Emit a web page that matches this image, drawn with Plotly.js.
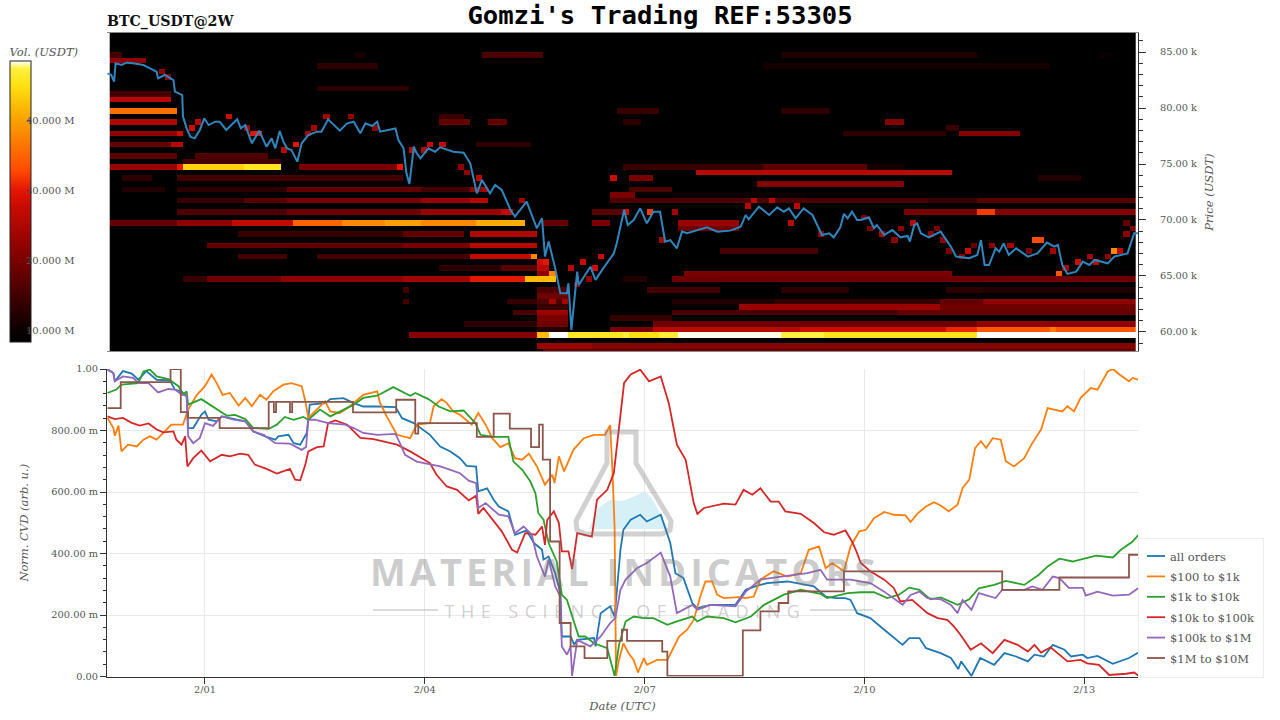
<!DOCTYPE html>
<html><head><meta charset="utf-8">
<script src="https://cdn.plot.ly/plotly-3.0.1.min.js"></script>
<style>html,body{margin:0;padding:0;background:#fff}#chart{width:1280px;height:720px}</style>
</head><body><div id="chart"></div>
<script>
// ---- time base: values are days relative to 2/01 00:00 UTC
const tickDays = [0, 3, 6, 9, 12];
const tickDayLabels = ["2/01", "2/04", "2/07", "2/10", "2/13"];
const cvdTickVals = [0, 0.2, 0.4, 0.6, 0.8, 1];
const cvdTickText = ["0.00", "200.00 m", "400.00 m", "600.00 m", "800.00 m", "1.00"];
const priceTickVals = [60, 65, 70, 75, 80, 85];
const priceTickText = ["60.00 k", "65.00 k", "70.00 k", "75.00 k", "80.00 k", "85.00 k"];
const volTickVals = [10, 20, 30, 40];
const volTickText = ["10.000 M", "20.000 M", "30.000 M", "40.000 M"];

// ---- price (k USDT)
const priceDay = [-1.33,-1.28,-1.24,-1.22,-1.14,-1.07,-.98,-.84,-.75,-.66,-.64,-.55,-.43,-.41,-.31,-.30,-.25,-.20,-.14,-.07,-.01,.05,.14,.20,.29,.39,.44,.49,.55,.64,.68,.74,.84,.91,.96,1.02,1.07,1.12,1.18,1.26,1.32,1.41,1.53,1.59,1.68,1.84,1.94,2.03,2.12,2.19,2.28,2.35,2.39,2.60,2.64,2.71,2.75,2.79,2.85,2.89,2.94,3.05,3.14,3.21,3.39,3.53,3.62,3.71,3.78,3.83,3.89,3.96,4.05,4.17,4.23,4.39,4.53,4.60,4.64,4.69,4.78,4.85,4.94,4.96,5.0,5.08,5.10,5.26,5.33,5.42,5.58,5.62,5.72,5.77,5.85,5.94,6.03,6.12,6.21,6.28,6.35,6.44,6.51,6.58,6.85,6.99,7.17,7.31,7.38,7.42,7.56,7.70,7.81,7.90,7.97,8.06,8.17,8.29,8.42,8.52,8.58,8.67,8.72,8.77,8.83,8.90,8.95,9.06,9.13,9.17,9.27,9.38,9.49,9.59,9.62,9.68,9.72,9.77,9.88,10.04,10.18,10.25,10.43,10.54,10.59,10.64,10.70,10.79,10.84,10.90,10.97,11.07,11.23,11.36,11.49,11.59,11.64,11.70,11.77,11.89,11.98,12.07,12.14,12.32,12.41,12.59,12.68,12.75];
const priceVal = [83.1,82.96,82.35,83.99,83.84,84.05,83.99,83.84,83.54,83.24,82.65,82.95,82.5,81.46,81.16,79.23,78.18,77.44,77.29,78.04,79.08,78.48,78.78,78.78,78.04,78.63,78.99,78.18,78.48,76.85,77.29,77.98,76.55,77.29,76.4,77.95,77.0,76.4,76.25,75.21,76.85,77.59,77.89,77.89,78.99,77.98,78.63,78.78,77.74,78.63,78.39,78.78,77.89,78.18,77.14,76.4,74.17,73.21,76.55,75.95,75.5,76.4,76.1,76.49,76.1,76.01,75.06,72.38,73.57,72.98,72.38,73.13,72.68,70.89,70.3,71.64,69.26,70.15,66.73,68.07,65.68,63.45,63.45,64.35,60.18,65.39,64.2,65.83,64.64,65.54,67.02,67.92,70.89,69.55,70.0,71.04,69.7,70.74,70.74,68.07,68.21,67.47,68.96,68.81,69.35,68.96,69.05,69.4,70.45,70.06,71.19,70.45,71.13,70.74,71.04,70.15,71.04,70.45,68.66,68.81,68.45,69.35,70.54,70.15,70.74,70.0,70.0,70.24,69.26,69.55,68.66,69.1,68.45,68.57,68.07,69.55,69.7,68.81,68.45,68.96,67.62,66.73,66.58,66.88,68.21,65.98,65.98,67.47,67.17,67.92,66.88,67.47,66.73,67.02,67.98,67.62,67.77,65.98,65.18,65.39,66.28,65.98,66.43,66.13,66.73,67.02,68.81,68.81];

// ---- normalised CVD series
const orangeDay = [-1.33,-1.25,-1.23,-1.18,-1.14,-1.05,-.93,-.84,-.75,-.66,-.57,-.46,-.30,-.23,-.11,0,.09,.16,.24,.34,.46,.55,.64,.75,.84,.93,1.07,1.18,1.32,1.37,1.41,1.50,1.64,1.71,1.84,1.98,2.16,2.35,2.39,2.48,2.62,2.80,2.89,3.07,3.12,3.23,3.30,3.39,3.48,3.64,3.73,3.83,3.92,4.03,4.14,4.23,4.33,4.42,4.53,4.64,4.74,4.77,4.83,4.90,5.03,5.17,5.31,5.46,5.53,5.56,5.59,5.61,5.65,5.71,5.78,5.85,5.91,5.99,6.03,6.17,6.31,6.38,6.47,6.58,6.67,6.76,6.83,6.92,6.99,7.08,7.29,7.38,7.49,7.58,7.76,7.95,8.13,8.24,8.38,8.47,8.56,8.72,8.81,8.93,9.02,9.13,9.27,9.40,9.56,9.63,9.72,9.84,9.95,10.04,10.15,10.27,10.34,10.43,10.51,10.59,10.66,10.75,10.86,10.93,11.04,11.18,11.29,11.41,11.50,11.59,11.70,11.77,11.86,11.95,12.09,12.18,12.32,12.39,12.48,12.61,12.66,12.74];
const orangeVal = [.841,.808,.783,.816,.732,.754,.748,.770,.781,.770,.792,.819,.819,.868,.916,.944,.982,.954,.916,.922,.881,.906,.879,.916,.900,.927,.949,.954,.944,.895,.841,.862,.895,.862,.857,.879,.916,.927,.889,.846,.786,.775,.819,.824,.879,.902,.889,.862,.851,.819,.857,.819,.775,.746,.759,.710,.705,.725,.683,.624,.656,.629,.716,.667,.738,.775,.786,.786,.817,.672,.488,.002,.054,.108,.076,.054,.013,.060,.038,.054,.054,.087,.130,.152,.184,.260,.309,.309,.266,.255,.258,.255,.260,.315,.342,.325,.336,.412,.423,.352,.369,.342,.423,.472,.477,.515,.535,.526,.524,.502,.529,.553,.567,.556,.537,.559,.613,.640,.743,.765,.743,.775,.770,.700,.683,.710,.759,.803,.873,.868,.862,.879,.862,.906,.938,.933,.992,1.0,.982,.960,.971,.965];

const redDay = [-1.33,-1.23,-1.12,-1.0,-.89,-.77,-.66,-.57,-.43,-.39,-.32,-.27,-.24,-.16,-.05,.07,.23,.34,.48,.59,.68,.84,.98,1.16,1.23,1.30,1.37,1.41,1.53,1.62,1.68,1.78,1.94,2.12,2.30,2.62,2.80,3.07,3.16,3.30,3.44,3.60,3.70,3.73,3.80,3.92,4.05,4.19,4.26,4.37,4.51,4.60,4.64,4.67,4.76,4.83,4.87,4.96,5.01,5.08,5.28,5.35,5.49,5.58,5.65,5.72,5.81,5.94,6.06,6.22,6.33,6.44,6.56,6.67,6.72,6.81,7.08,7.24,7.35,7.47,7.58,7.72,7.83,7.92,8.13,8.31,8.45,8.58,8.74,8.83,8.88,8.95,9.08,9.27,9.40,9.49,9.65,9.86,10.0,10.13,10.22,10.31,10.45,10.59,10.75,10.91,11.09,11.23,11.32,11.41,11.54,11.77,11.95,12.04,12.2,12.34,12.57,12.68,12.74];
const redVal = [.846,.837,.841,.825,.816,.823,.803,.794,.797,.770,.754,.781,.683,.710,.735,.700,.721,.716,.725,.721,.689,.675,.660,.675,.640,.638,.689,.732,.746,.748,.824,.833,.819,.776,.772,.754,.732,.694,.656,.618,.607,.573,.588,.529,.548,.510,.472,.412,.403,.466,.461,.488,.428,.509,.537,.499,.407,.407,.349,.466,.455,.575,.607,.662,.813,.955,.982,.998,.960,.976,.889,.754,.705,.564,.529,.548,.562,.559,.607,.591,.612,.569,.569,.537,.529,.499,.469,.461,.475,.439,.413,.369,.342,.315,.288,.244,.249,.206,.190,.184,.163,.136,.087,.108,.076,.119,.103,.081,.103,.078,.095,.049,.054,.043,.038,.005,.009,.013,.002];

const greenDay = [-1.33,-1.21,-1.14,-.98,-.91,-.84,-.75,-.66,-.50,-.36,-.30,-.25,-.23,-.05,.16,.30,.41,.55,.66,.87,.98,1.09,1.21,1.34,1.41,1.57,1.71,1.84,2.03,2.16,2.35,2.57,2.69,2.80,2.87,3.05,3.19,3.35,3.53,3.69,3.76,3.94,4.14,4.21,4.33,4.44,4.51,4.55,4.62,4.69,4.80,4.87,4.94,5.01,5.10,5.19,5.31,5.49,5.53,5.59,5.65,5.74,5.85,5.99,6.12,6.31,6.44,6.65,6.72,6.85,7.08,7.24,7.45,7.63,7.90,8.13,8.40,8.49,8.77,8.95,9.13,9.31,9.47,9.61,9.75,9.90,10.04,10.27,10.43,10.56,10.77,10.93,11.18,11.38,11.50,11.66,11.84,11.98,12.16,12.39,12.50,12.66,12.74];
const greenVal = [.922,.933,.949,.952,.954,.992,.998,.976,.967,.944,.917,.927,.884,.902,.868,.848,.851,.837,.808,.805,.819,.844,.835,.844,.835,.868,.846,.862,.884,.906,.913,.941,.927,.913,.922,.902,.878,.862,.865,.824,.786,.779,.779,.699,.672,.634,.596,.531,.510,.434,.374,.266,.249,.195,.130,.130,.108,.092,.054,.002,.103,.179,.195,.190,.190,.168,.179,.195,.179,.195,.190,.176,.195,.233,.266,.282,.269,.255,.271,.274,.274,.255,.266,.289,.282,.251,.257,.233,.251,.287,.298,.311,.298,.331,.358,.383,.374,.383,.393,.387,.412,.439,.461];

const blueDay = [-1.33,-1.25,-1.23,-1.12,-1.0,-.91,-.80,-.66,-.48,-.41,-.32,-.25,-.23,-.16,-.05,0,.05,.16,.23,.39,.55,.66,.84,.96,1.0,1.14,1.21,1.30,1.39,1.43,1.64,1.71,1.89,2.03,2.16,2.35,2.60,2.69,2.85,3.07,3.21,3.35,3.48,3.57,3.70,3.73,3.85,3.94,4.01,4.14,4.23,4.39,4.49,4.60,4.62,4.69,4.78,4.85,4.87,4.99,5.04,5.08,5.31,5.33,5.40,5.53,5.59,5.67,5.71,5.81,5.94,6.03,6.22,6.35,6.42,6.53,6.65,6.72,6.90,7.24,7.38,7.51,7.67,7.95,8.31,8.47,8.61,8.74,8.81,8.90,9.08,9.27,9.52,9.61,9.75,9.84,10.04,10.18,10.28,10.32,10.46,10.58,10.77,10.91,11.07,11.23,11.32,11.45,11.57,11.73,11.82,11.98,12.04,12.18,12.39,12.61,12.74];
const blueVal = [.998,.987,.960,.993,.985,.965,.993,.965,.963,.933,.927,.911,.808,.808,.851,.862,.835,.830,.846,.838,.830,.797,.779,.770,.781,.786,.759,.754,.792,.884,.889,.902,.905,.889,.878,.878,.876,.840,.824,.786,.748,.732,.710,.685,.683,.602,.612,.575,.553,.537,.461,.475,.434,.412,.380,.390,.336,.271,.130,.130,.103,.119,.125,.098,.206,.228,.195,.412,.477,.510,.526,.504,.526,.434,.336,.320,.239,.222,.233,.233,.282,.293,.304,.309,.293,.260,.255,.255,.249,.206,.190,.152,.103,.125,.125,.092,.076,.060,.024,.049,.002,.060,.038,.076,.065,.049,.071,.065,.103,.087,.065,.071,.060,.067,.041,.060,.078];

const purpleDay = [-1.33,-1.25,-1.23,-1.12,-.98,-.91,-.77,-.64,-.50,-.41,-.32,-.25,-.23,-.16,-.07,0,.11,.23,.39,.55,.66,.80,.96,1.16,1.32,1.38,1.41,1.50,1.68,1.91,2.03,2.16,2.35,2.60,2.66,2.73,2.89,3.07,3.21,3.35,3.48,3.60,3.70,3.73,3.83,4.01,4.14,4.23,4.35,4.46,4.53,4.64,4.69,4.78,4.85,4.87,4.94,4.99,5.01,5.08,5.26,5.40,5.53,5.60,5.67,5.74,5.90,6.03,6.22,6.35,6.44,6.65,6.72,6.90,7.24,7.38,7.58,7.86,8.22,8.40,8.49,8.81,9.08,9.27,9.40,9.52,9.63,9.75,9.86,10.04,10.18,10.27,10.34,10.46,10.56,10.79,10.88,11.18,11.29,11.43,11.57,11.66,11.79,11.98,12.02,12.18,12.39,12.61,12.74];
const purpleVal = [1.0,.987,.960,.976,.971,.954,.954,.924,.935,.933,.917,.913,.781,.759,.776,.824,.815,.846,.835,.830,.797,.786,.759,.757,.737,.746,.835,.835,.824,.819,.808,.792,.786,.789,.759,.721,.699,.689,.683,.672,.661,.637,.629,.548,.564,.526,.521,.466,.488,.461,.390,.325,.380,.293,.260,.098,.071,.098,.002,.119,.098,.130,.174,.190,.282,.315,.353,.369,.403,.325,.206,.233,.217,.233,.228,.276,.315,.325,.336,.347,.315,.315,.304,.276,.255,.233,.265,.276,.255,.251,.233,.206,.249,.217,.271,.255,.282,.282,.293,.282,.325,.320,.288,.288,.263,.276,.263,.266,.288];

const brownDay = [-1.33,-1.15,-.47,-.33,-.23,.20,.87,.94,.97,1.16,1.19,2.02,2.61,2.87,2.91,3.71,3.94,4.16,4.45,4.56,4.61,4.71,4.84,4.99,5.18,5.49,5.69,5.76,6.24,6.31,7.34,7.58,7.83,7.96,8.72,10.88,11.66,12.61,12.74];
const brownVal = [.873,.957,1.0,.860,.841,.808,.893,.860,.893,.860,.893,.859,.900,.790,.824,.779,.855,.806,.746,.819,.705,.439,.174,.098,.060,.116,.152,.116,.081,.002,.150,.212,.239,.277,.342,.282,.322,.396,.396];

const seriesNames = ["all orders", "$100 to $1k", "$1k to $10k", "$10k to $100k", "$100k to $1M", "$1M to $10M"];
const seriesColors = ["#1f77b4", "#ff7f0e", "#2ca02c", "#d62728", "#9467bd", "#8c564b"];

// ---- order-book heat bands: upper price edge (k) and [fromDay, toDay, volume M] runs
const bandPrice = [85,84.5,84,82,81.5,81,80,79.5,79,78.5,78,77,76,75.5,75,74.5,74,73.5,73,72.5,72,71,70,69.5,69,68,67.5,67,66.5,66,65.5,65,64,63.5,63,62.5,62,61.5,61,60.5,60,59,58.5];
const bandRuns = [
 [[-1.30,-1.16,15],[2.05,2.21,11],[3.79,4.60,16],[7.9,10.5,12],[12.2,12.4,10]],
 [[-1.30,-.79,22]],
 [[1.54,2.36,13],[7.6,11.53,11]],
 [[1.57,2.76,13]],
 [[-1.30,-.48,15]],
 [[-1.30,-.48,26]],
 [[-1.30,-.38,36],[5.63,6.21,14],[7.89,8.53,13]],
 [[3.21,3.55,14]],
 [[-1.30,-.38,25],[3.21,3.62,18],[3.86,4.09,18],[5.7,5.93,13],[9.28,9.52,21]],
 [[10.1,10.27,14]],
 [[-1.30,-.38,22],[-.38,-.27,28],[8.66,10.1,13],[10.27,11.12,21]],
 [[-1.30,-.48,18],[-.45,-.30,26],[3.71,4.43,13]],
 [[-1.30,-.41,17],[-.14,.89,16]],
 [[-.30,1.02,15]],
 [[-1.30,-.38,23],[-.38,-.30,30],[-.30,.55,44],[.55,1.04,46],[1.30,2.62,20],[2.62,2.69,30],[5.7,7.6,14],[7.6,9.0,17],[9.0,9.5,11]],
 [[6.71,10.19,26]],
 [[-1.13,-.71,13],[-.38,2.66,15],[5.76,6.1,20],[11.39,11.94,12]],
 [[7.53,9.51,21]],
 [[-1.13,-.55,12],[-.41,.61,13],[.61,1.09,13],[1.13,2.93,18],[2.93,3.62,15],[3.62,3.76,22],[5.76,6.34,16]],
 [[5.55,5.85,20],[6.34,8.2,10]],
 [[-.38,.55,14],[.55,1.13,17],[1.13,2.93,20],[2.93,3.62,23],[3.62,3.86,26],[5.53,9.89,16],[9.89,10.53,14],[10.53,12.69,17]],
 [[-.38,1.09,16],[1.09,2.93,19],[2.93,4.02,23],[4.02,4.16,27],[5.25,5.66,17],[9.55,10.55,20],[10.55,10.78,32],[10.78,12.69,21]],
 [[-1.30,-.38,18],[-.38,.34,22],[.34,1.16,27],[1.16,1.88,35],[1.88,2.43,38],[2.43,2.93,40],[2.93,3.66,38],[3.66,4.37,41],[4.61,4.95,18],[5.25,5.53,20],[6.44,7.28,23]],
 [[6.44,7.3,19]],
 [[.48,2.66,14],[2.66,3.55,18],[3.62,4.53,25]],
 [[.07,2.66,18],[2.66,3.62,20],[3.62,4.53,26]],
 [[7.01,8.35,15]],
 [[.48,1.09,15],[1.57,3.62,15],[3.62,4.43,27],[4.43,4.53,38]],
 [[4.5,4.7,28]],
 [[3.21,4.02,13],[4.02,4.5,17],[4.5,4.7,26]],
 [[4.5,4.77,22],[6.53,10.16,20],[10.16,12.69,10]],
 [[-.30,.03,14],[.03,1.02,19],[1.02,2.66,22],[2.66,3.62,24],[3.62,4.37,30],[4.37,4.77,42],[5.66,6.03,12],[6.34,12.69,19]],
 [[2.7,2.76,15],[4.57,4.95,16],[6.04,7.01,15],[7.84,8.76,13],[10.11,10.61,13],[10.61,12.69,12]],
 [[4.57,4.95,19]],
 [[2.7,2.76,15],[4.09,4.53,14],[4.57,4.95,16],[6.37,7.80,12],[7.80,10.03,14],[10.03,10.61,18],[10.61,12.69,22]],
 [[4.57,4.95,14],[7.27,10.01,23],[10.01,12.69,19]],
 [[4.16,4.53,16],[4.57,4.95,23],[6.37,9.48,16],[9.48,12.69,18]],
 [[4.57,4.95,20],[5.54,6.34,14]],
 [[3.55,4.53,13],[4.57,4.95,19],[6.13,10.50,19],[10.50,12.69,22]],
 [[4.57,4.95,12],[5.54,6.13,20],[6.13,8.12,26],[8.12,10.10,28],[10.10,10.50,31],[10.50,11.51,34],[11.51,11.60,37],[11.60,12.69,34]],
 [[2.78,4.57,21],[4.57,4.68,42],[4.68,4.97,49],[4.97,5.69,46],[5.69,5.80,47.5],[5.80,6.18,45],[6.18,6.44,47],[6.44,7.84,48.5],[7.84,8.42,47.5],[8.42,10.50,45.5],[10.50,12.69,49]],
 [[4.57,5.28,23],[5.28,12.69,21]],
 [[4.6,12.69,18]]
];
// isolated resting-order blocks next to the price line
const dotDay = [-.6,-.55,-.18,-.08,.31,.60,.67,.78,1.06,1.23,1.39,1.46,1.65,1.98,2.36,2.8,2.97,3.07,3.23,3.48,3.57,3.74,3.82,4.32,4.65,4.73,4.73,4.91,5.01,5.09,5.14,5.23,5.32,5.40,5.57,5.73,6.07,6.23,6.38,7.41,7.48,7.74,7.98,8.08,8.42,8.98,9.07,9.24,9.41,9.52,9.65,9.92,9.99,10.07,10.16,10.31,10.40,10.5,10.75,11.02,11.23,11.36,11.43,11.57,11.64,11.76,11.91,12.07,12.14,12.31,12.40,12.48,12.58,12.58,12.65];
const dotPrice = [83.5,83,78.5,79,79.5,78.5,78,78,76.5,77,78,78.5,79.5,79.5,78.5,76.5,76.5,77,77,75,74.5,74,73,72,66.5,65.5,63,63,66,64.5,66.5,65,66,67,74,71,71,68.5,71,71.5,72,72,70,71.5,69,70.5,69.5,69,68.5,69.5,70,69,69.5,68.5,67.5,67,67.5,68,68,68,67.5,68.5,68.5,67.5,65.5,66,66.5,67,66.5,67,67.5,67.5,69,70,69.5];
const dotVol = [22,22,28,26,28,24,30,30,26,30,24,24,24,22,22,26,25,27,27,22,22,26,24,24,30,38,24,24,26,22,28,22,28,28,28,28,32,24,24,26,26,26,26,26,22,20,20,24,22,22,26,22,20,22,20,22,28,18,22,24,20,33,33,24,34,24,28,24,26,22,38,26,22,18,20];

// ---- scale stops of the volume colour bar (M USDT)
const volMin = 8.3, volMax = 48.6;
const colorStops = [[0,"#000000"],[.042,"#0a0000"],[.29,"#7a0000"],[.49,"#cc0c00"],[.54,"#e41600"],[.61,"#ff4a00"],[.787,"#f8a000"],[.91,"#ffe010"],[.973,"#fff040"],[1,"#ffffff"]];

// ---- build the heat grid (2 h columns, 500 USDT rows)
const day0 = -1.30, colDays = 1/12, nCols = 168, price0 = 58, rowK = 0.5, nRows = 58;
const stamp = d => new Date(Date.UTC(2026,1,1) + d*864e5).toISOString().slice(0,19);
const heatX = Array.from({length:nCols},(_,i)=>stamp(day0+(i+.5)*colDays));
const heatY = Array.from({length:nRows},(_,j)=>price0+(j+.5)*rowK);
const heatZ = heatY.map(()=>new Array(nCols).fill(volMin));
const rowOf = u => Math.round((u-rowK/2-price0)/rowK-.5);
const colOf = d => Math.round((d-day0)/colDays);
bandPrice.forEach((u,k)=>bandRuns[k].forEach(r=>{
  for(let c=colOf(r[0]);c<colOf(r[1])&&c<nCols;c++) heatZ[rowOf(u)][c]=Math.max(heatZ[rowOf(u)][c],r[2]);
}));
dotDay.forEach((d,k)=>{const c=Math.min(nCols-1,Math.floor((d-day0)/colDays));heatZ[rowOf(dotPrice[k])][c]=Math.max(heatZ[rowOf(dotPrice[k])][c],dotVol[k]);});

const font = {family:"DejaVu Serif", size:9.8, color:"#555"};
const italic = s => ({family:"DejaVu Serif", size:s, color:"#555", style:"italic"});
const W=1280,H=720, px=x=>x/W, py=y=>1-y/H;
const range=[stamp(-1.337),stamp(12.733)];

const lines=[[blueDay,blueVal],[orangeDay,orangeVal],[greenDay,greenVal],[redDay,redVal],[purpleDay,purpleVal],[brownDay,brownVal]];
const traces=[
 {type:"heatmap",x:heatX,y:heatY,z:heatZ,xaxis:"x",yaxis:"y",zmin:volMin,zmax:volMax,colorscale:colorStops,hoverinfo:"skip",
  colorbar:{x:px(10),xanchor:"left",y:py(342),yanchor:"bottom",len:300/H,thickness:21,xpad:0,ypad:0,outlinewidth:1,outlinecolor:"#222",
    tickvals:volTickVals,ticktext:volTickText,ticks:"inside",ticklen:4,tickcolor:"rgba(60,30,0,.7)",tickfont:{family:"DejaVu Serif",size:10,color:"#555"},
    title:{text:"Vol. (USDT)",side:"top",font:italic(11.5)}}},
 {type:"scatter",mode:"lines",x:priceDay.map(stamp),y:priceVal,xaxis:"x",yaxis:"y",showlegend:false,line:{color:"#2f86bd",width:2},hoverinfo:"skip"}
];
lines.forEach((l,i)=>traces.push({type:"scatter",mode:"lines",x:l[0].map(stamp),y:l[1],xaxis:"x2",yaxis:"y2",name:seriesNames[i],
  line:{color:seriesColors[i],width:1.8,shape:i===5?"hv":"linear"}}));

const boxPath=(pts,close)=>pts.map((p,i)=>(i?"L":"M")+px(p[0])+" "+py(p[1])).join(" ")+(close?" Z":"");
const layout={
 width:W,height:H,margin:{l:0,r:0,t:0,b:0,autoexpand:false},paper_bgcolor:"#fff",plot_bgcolor:"#fff",
 title:{text:"Gomzi's Trading REF:53305",x:660/W,xanchor:"center",y:py(15),yanchor:"middle",font:{family:"DejaVu Sans Mono",size:25.6,color:"#000",weight:700}},
 xaxis:{domain:[px(107),px(1138)],range:range,type:"date",anchor:"y",showticklabels:false,ticks:"",showgrid:false,zeroline:false,showline:true,mirror:true,linecolor:"#888",linewidth:1},
 yaxis:{domain:[py(351),py(33)],range:[58.3,86.7],side:"right",anchor:"x",tickvals:priceTickVals,ticktext:priceTickText,tickfont:font,ticks:"outside",ticklen:7,tickcolor:"#333",
   ticklabelstandoff:12,showgrid:false,zeroline:false,showline:true,linecolor:"#333",linewidth:1,minor:{dtick:1,ticks:"outside",ticklen:4,tickcolor:"#333",showgrid:false},
   title:{text:"Price (USDT)",font:italic(11.5),standoff:8}},
 xaxis2:{domain:[px(107),px(1138)],range:range,type:"date",anchor:"y2",tickvals:tickDays.map(stamp),ticktext:tickDayLabels,tickfont:font,ticks:"outside",ticklen:6,tickcolor:"#333",ticklabelstandoff:-2,
   showgrid:true,gridcolor:"#e9e9e9",zeroline:false,showline:true,linecolor:"#333",linewidth:1,title:{text:"Date (UTC)",font:italic(11.5),standoff:7}},
 yaxis2:{domain:[py(676.5),py(369)],range:[0,1],anchor:"x2",tickvals:cvdTickVals,ticktext:cvdTickText,tickfont:font,ticks:"outside",ticklen:6,tickcolor:"#333",
   showgrid:true,gridcolor:"#e9e9e9",zeroline:false,showline:true,linecolor:"#333",linewidth:1,minor:{dtick:.04,ticks:"outside",ticklen:3,tickcolor:"#333",showgrid:false},
   title:{text:"Norm. CVD (arb. u.)",font:italic(11.5),standoff:20}},
 legend:{x:px(1138),xanchor:"left",y:py(538),yanchor:"top",bgcolor:"#fff",bordercolor:"#eee",borderwidth:1,font:{family:"DejaVu Serif",size:11.5,color:"#555"},itemwidth:30,tracegroupgap:0},
 annotations:[
  {xref:"paper",yref:"paper",x:px(105),y:py(21),xanchor:"left",yanchor:"middle",showarrow:false,text:"<b>BTC_USDT@2W</b>",font:{family:"DejaVu Serif",size:14.2,color:"#111"}},
  {xref:"paper",yref:"paper",x:px(624),y:py(571),xanchor:"center",yanchor:"middle",showarrow:false,text:"MATERIAL INDICATORS",font:{family:"Open Sans",size:38,color:"rgba(120,120,120,.38)",weight:700}},
  {xref:"paper",yref:"paper",x:px(625),y:py(611),xanchor:"center",yanchor:"middle",showarrow:false,text:"THE SCIENCE OF TRADING",font:{family:"Open Sans",size:18,color:"rgba(140,140,140,.42)"}}
 ],
 shapes:[
  {type:"path",xref:"paper",yref:"paper",layer:"below",fillcolor:"rgba(190,232,242,.65)",line:{width:0},path:boxPath([[589,529],[598,508],[610,500],[622,501],[633,497],[645,491],[653,500],[668,529]],true)},
  {type:"path",xref:"paper",yref:"paper",fillcolor:"rgba(0,0,0,0)",line:{color:"rgba(120,120,120,.34)",width:5},path:boxPath([[607,432],[636,432],[636,463],[671,521],[670,530],[662,534],[585,534],[577,530],[576,521],[607,463]],true)},
  {type:"line",xref:"paper",yref:"paper",x0:px(373),x1:px(438),y0:py(610),y1:py(610),line:{color:"rgba(140,140,140,.42)",width:1.5}},
  {type:"line",xref:"paper",yref:"paper",x0:px(810),x1:px(873),y0:py(610),y1:py(610),line:{color:"rgba(140,140,140,.42)",width:1.5}}
 ]
};
Plotly.newPlot("chart",traces,layout,{displayModeBar:false,staticPlot:true}).then(()=>{
  document.querySelectorAll(".annotation-text").forEach(t=>{
    if(t.textContent.startsWith("MATERIAL")) t.style.letterSpacing="4px";
    if(t.textContent.startsWith("THE SCIENCE")) t.style.letterSpacing="6.5px";
  });
  // colour-bar labels sit tight against the bar in the reference
  document.querySelectorAll(".colorbar .cbaxis text").forEach(t=>{
    t.setAttribute("transform","translate(-8,0) "+(t.getAttribute("transform")||""));
  });
  document.querySelectorAll(".colorbar .cbtitle text").forEach(t=>{
    t.setAttribute("transform","translate(0,3) "+(t.getAttribute("transform")||""));
  });
  // legend geometry: roomier rows and a shorter sample line than the defaults
  const lg=document.querySelector(".legend");
  if(lg){
    const sb=lg.querySelector(".scrollbox"); if(sb) sb.removeAttribute("clip-path");
    const bg=lg.querySelector("rect.bg"); if(bg){bg.setAttribute("width",125);bg.setAttribute("height",139);}
    lg.querySelectorAll(".traces").forEach((t,i)=>{
      t.setAttribute("transform",`translate(0,${18+i*20.4})`);
      const tx=t.querySelector(".legendtext"); if(tx) tx.setAttribute("x",32);
      const ln=t.querySelector(".legendlines path"); if(ln) ln.setAttribute("d","M9,0h18");
    });
  }
});
</script></body></html>
